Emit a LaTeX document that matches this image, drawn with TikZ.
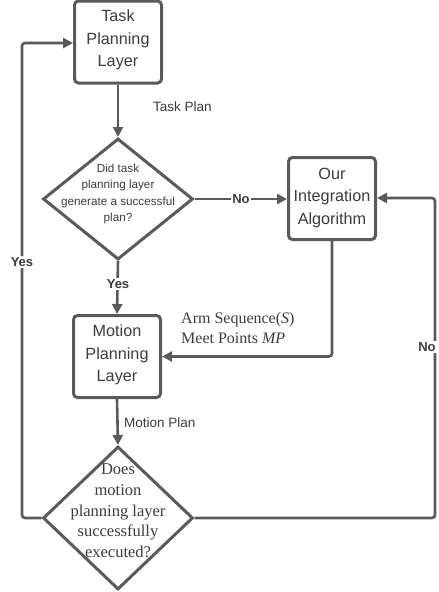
\documentclass[tikz,border=0pt]{standalone}
\usepackage{fontspec}
\setmainfont{Liberation Serif}
\setsansfont{Liberation Sans}
\usetikzlibrary{arrows.meta,shapes.geometric}
\definecolor{linegray}{HTML}{5A5A5A}
\definecolor{textgray}{HTML}{3C3C3C}
\tikzset{
  block/.style={draw=linegray, line width=3pt, rounded corners=4pt, fill=white,
    minimum width=87pt, minimum height=82pt, inner sep=0pt},
  blocktext/.style={text=textgray, align=center, font=\sffamily\fontsize{16.2}{22.5}\selectfont},
  decision/.style={draw=linegray, line width=3pt, shape=diamond, fill=white,
    minimum width=150pt, inner sep=0pt},
  flow/.style={draw=linegray, line width=2.6pt, rounded corners=3pt,
    -{Triangle[length=10pt,width=10pt]}},
  lbl/.style={text=textgray, font=\sffamily\fontsize{13.5}{16}\selectfont, inner sep=1pt},
  answer/.style={text=textgray, font=\sffamily\bfseries\fontsize{13}{15}\selectfont,
    fill=white, inner sep=1.5pt},
}
\begin{document}
\begin{tikzpicture}[x=1pt,y=-1pt]
\useasboundingbox (0,0) rectangle (439,592);

% main blocks
\node[block] (task) at (118,42) {};
\node[blocktext] (tasktxt) at (118,40) {Task\\Planning\\Layer};
\node[block] (integ) at (332,198.5) {};
\node[blocktext] (integtxt) at (332,198) {Our\\Integration\\Algorithm};
\node[block] (motion) at (117,356.5) {};
\node[blocktext] (motiontxt) at (117,355) {Motion\\Planning\\Layer};

% decisions
\node[decision, minimum height=121pt] (dtask) at (118,199) {};
\node[text=textgray, align=center, font=\sffamily\fontsize{11.7}{16.5}\selectfont]
  (dtasktxt) at (118,194) {Did task\\planning layer\\generate a successful\\plan?};
\node[decision, minimum height=143pt] (dmotion) at (118,518) {};
\node[text=textgray, align=center, font=\rmfamily\fontsize{16.5}{20.7}\selectfont]
  (dmotiontxt) at (118,511) {Does\\motion\\planning layer\\successfully\\executed?};

% loop corners
\coordinate (lb) at (22,518);
\coordinate (lt) at (22,43);
\coordinate (rb) at (435,518);
\coordinate (rt) at (435,198);

% connectors
\draw[flow] (task.south) -- (dtask.north);
\draw[flow] (dtask.east) -- (integ.west |- dtask.east);
\draw[flow] (dtask.south) -- (motion.north);
\draw[flow] (integ.south) |- (motion.east);
\draw[flow] (motion.south) -- (dmotion.north);
\draw[flow] (dmotion.west) -- (lb) -- (lt) -- (task.west |- lt);
\draw[flow] (dmotion.east) -- (rb) -- (rt) -- (integ.east |- rt);

% connector labels
\node[lbl, anchor=west] (tplan) at (152,107) {Task Plan};
\node[lbl, anchor=west] (mplan) at (123,423) {Motion Plan};
\node[anchor=west, align=left, text=textgray, inner sep=0pt,
  font=\rmfamily\fontsize{16}{19.5}\selectfont] (armseq) at (181,328)
  {Arm Sequence(\textit{S})\\Meet Points \textit{MP}};
\node[answer] (no1) at (241,199) {No};
\node[answer] (yes1) at (118,284) {Yes};
\node[answer] (yes2) at (22,262) {Yes};
\node[answer] (no2) at (427,347) {No};
\end{tikzpicture}
\end{document}
